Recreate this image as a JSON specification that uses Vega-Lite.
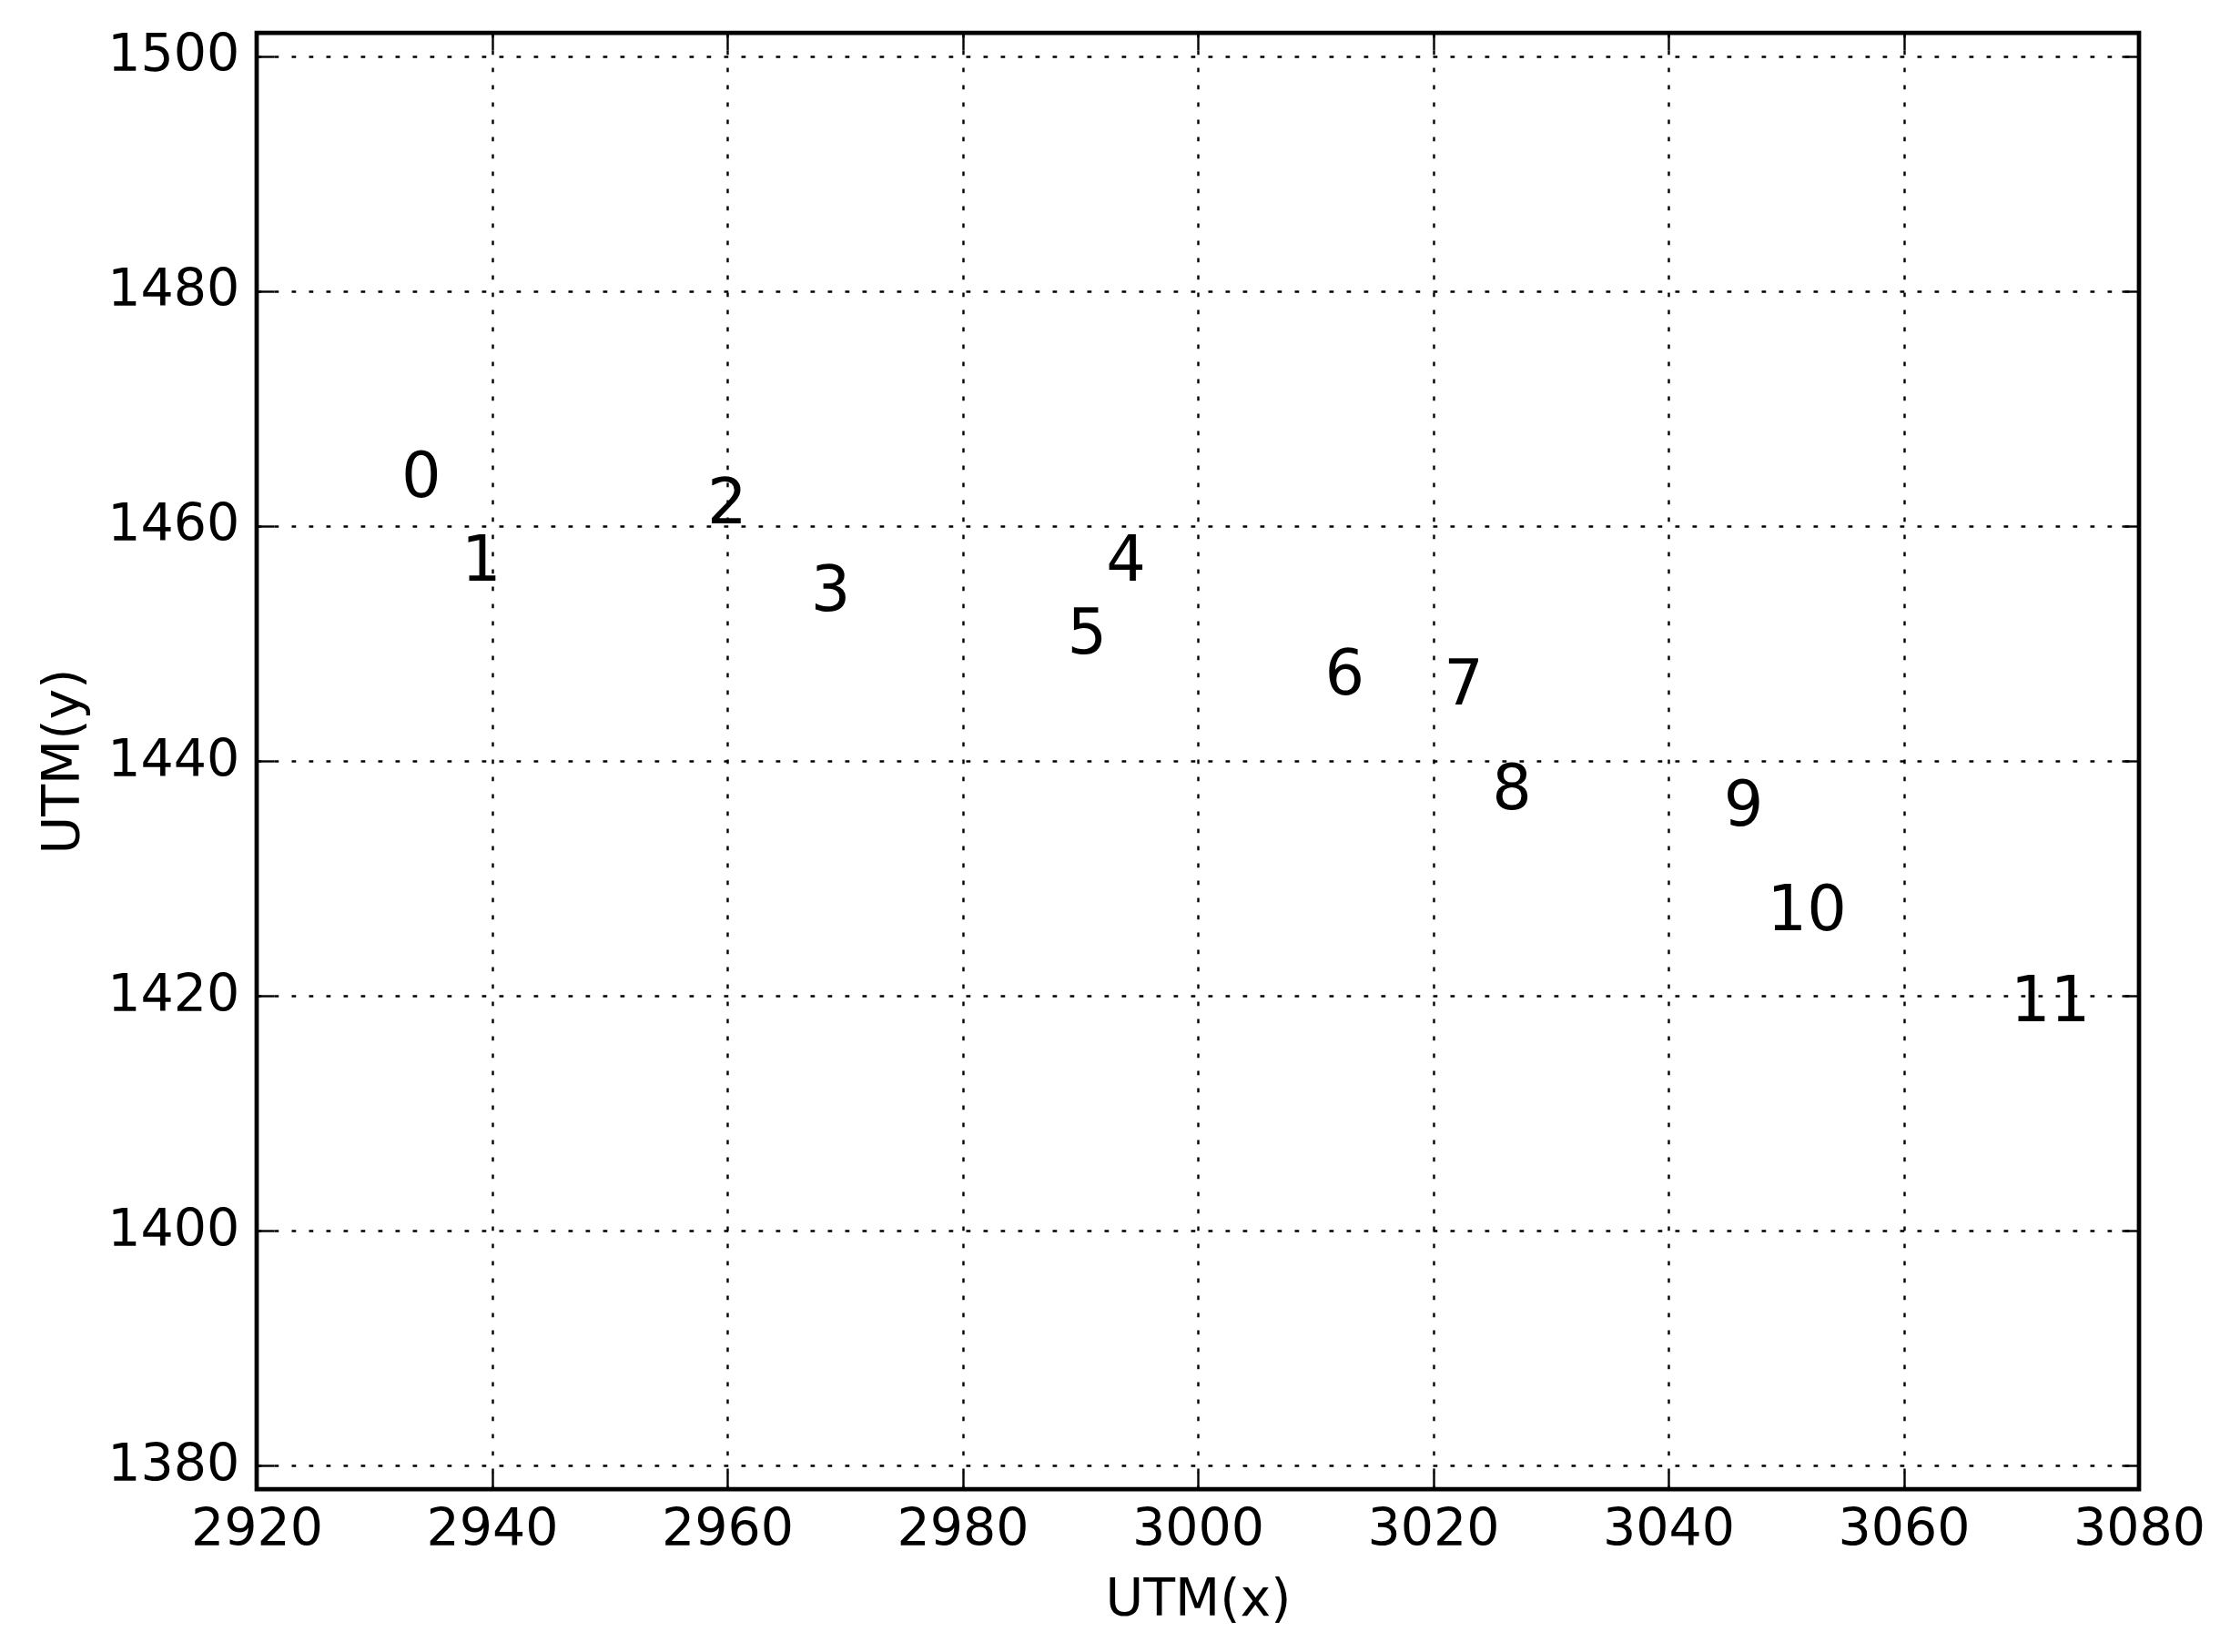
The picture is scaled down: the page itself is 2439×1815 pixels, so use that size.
{
  "$schema": "https://vega.github.io/schema/vega-lite/v6.json",
  "width": 2068,
  "height": 1600,
  "autosize": {"type": "none"},
  "padding": {"left": 282, "top": 36, "right": 89, "bottom": 179},
  "background": "white",
  "config": {
    "view": {"stroke": "black", "strokeWidth": 4.75, "fill": "white"},
    "font": "DejaVu Sans",
    "axis": {
      "domain": false,
      "grid": true,
      "gridColor": "black",
      "gridOpacity": 1,
      "gridWidth": 2.4,
      "gridDash": [4.75, 14.25],
      "ticks": true,
      "tickColor": "black",
      "tickWidth": 2.4,
      "tickSize": -19,
      "labelFont": "DejaVu Sans",
      "labelFontSize": 57,
      "labelColor": "black",
      "titleFont": "DejaVu Sans",
      "titleFontSize": 57,
      "titleFontWeight": "normal",
      "titleColor": "black"
    }
  },
  "data": {
    "values": [
      {"label": "0", "x": 2932.3, "y": 1462.45},
      {"label": "1", "x": 2937.4, "y": 1455.36},
      {"label": "2", "x": 2958.3, "y": 1460.26},
      {"label": "3", "x": 2967.1, "y": 1452.78},
      {"label": "4", "x": 2992.2, "y": 1455.36},
      {"label": "5", "x": 2988.9, "y": 1449.17},
      {"label": "6", "x": 3010.8, "y": 1445.68},
      {"label": "7", "x": 3020.9, "y": 1444.8},
      {"label": "8", "x": 3025.0, "y": 1435.87},
      {"label": "9", "x": 3044.7, "y": 1434.46},
      {"label": "10", "x": 3048.4, "y": 1425.55},
      {"label": "11", "x": 3069.1, "y": 1417.81}
    ]
  },
  "layer": [
    {
      "mark": {"type": "text", "align": "left", "baseline": "alphabetic", "fontSize": 68.6, "font": "DejaVu Sans", "color": "black"},
      "encoding": {
        "x": {
          "field": "x", "type": "quantitative",
          "scale": {"domain": [2920, 3080], "nice": false, "zero": false},
          "axis": {
            "orient": "bottom",
            "title": "UTM(x)",
            "format": "d",
            "values": [2920, 2940, 2960, 2980, 3000, 3020, 3040, 3060, 3080],
            "labelBaseline": "alphabetic",
            "labelPadding": 80.5,
            "labelFlush": false,
            "labelOverlap": false,
            "titleBaseline": "alphabetic",
            "titlePadding": 66
          }
        },
        "y": {
          "field": "y", "type": "quantitative",
          "scale": {"domain": [1378, 1502], "nice": false, "zero": false},
          "axis": {
            "orient": "left",
            "title": "UTM(y)",
            "format": "d",
            "values": [1380, 1400, 1420, 1440, 1460, 1480, 1500],
            "labelBaseline": "alphabetic",
            "labelOffset": 16,
            "labelPadding": 38.2,
            "labelFlush": false,
            "labelOverlap": false,
            "titlePadding": 19
          }
        },
        "text": {"field": "label", "type": "nominal"}
      }
    },
    {
      "mark": {"type": "text", "opacity": 0},
      "encoding": {
        "x": {
          "field": "x", "type": "quantitative",
          "axis": {"orient": "top", "labels": false, "title": null, "grid": false,
                   "values": [2920, 2940, 2960, 2980, 3000, 3020, 3040, 3060, 3080]}
        },
        "y": {
          "field": "y", "type": "quantitative",
          "axis": {"orient": "right", "labels": false, "title": null, "grid": false,
                   "values": [1380, 1400, 1420, 1440, 1460, 1480, 1500]}
        },
        "text": {"field": "label", "type": "nominal"}
      }
    }
  ],
  "resolve": {"axis": {"x": "independent", "y": "independent"}}
}
